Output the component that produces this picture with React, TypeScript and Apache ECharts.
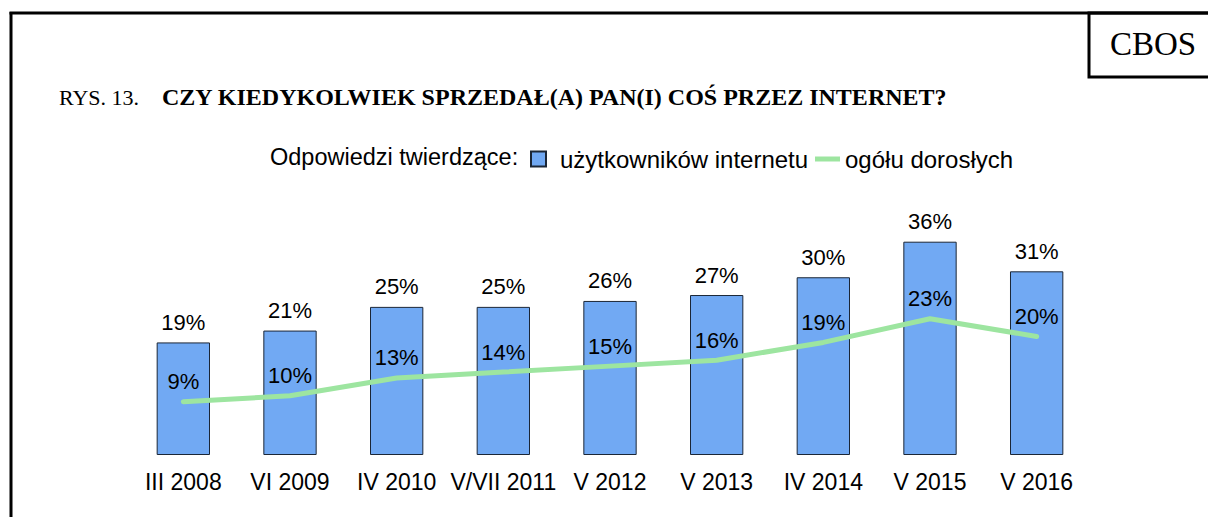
import React, { useEffect, useRef } from "react";
import * as echarts from "echarts";

const categories = ["III 2008", "VI 2009", "IV 2010", "V/VII 2011", "V 2012", "V 2013", "IV 2014", "V 2015", "V 2016"];
const internetUsers = [19, 21, 25, 25, 26, 27, 30, 36, 31];
const allAdults = [9, 10, 13, 14, 15, 16, 19, 23, 20];
const seriesNames = ["użytkowników internetu", "ogółu dorosłych"];
const legendLead = "Odpowiedzi twierdzące:";
const titlePrefix = "RYS. 13.";
const titleMain = "CZY KIEDYKOLWIEK SPRZEDAŁ(A) PAN(I) COŚ PRZEZ INTERNET?";

const SANS = "'Liberation Sans', Arial, sans-serif";
const SERIF = "'Liberation Serif', 'Times New Roman', serif";
const GREEN = "#9DE5A0";

export default function App() {
  const ref = useRef<HTMLDivElement>(null);
  useEffect(() => {
    if (!ref.current) return;
    const chart = echarts.init(ref.current, undefined, { renderer: "svg" });
    chart.setOption({
      animation: false,
      backgroundColor: "#ffffff",
      grid: { left: 130, right: 118, top: 218, bottom: 62 },
      xAxis: {
        type: "category",
        data: categories,
        axisLine: { show: false },
        axisTick: { show: false },
        axisLabel: { color: "#000", fontFamily: SANS, fontSize: 23, margin: 15, interval: 0 },
      },
      yAxis: { type: "value", min: 0, max: 40, show: false, splitLine: { show: false } },
      legend: [
        {
          data: [seriesNames[0]],
          left: 525,
          top: 142,
          itemWidth: 15,
          itemHeight: 15,
          icon: "rect",
          textStyle: { color: "#000", fontFamily: SANS, fontSize: 24, padding: [0, 0, 0, 9] },
          selectedMode: false,
        },
        {
          data: [seriesNames[1]],
          left: 810,
          top: 142,
          itemWidth: 25,
          itemHeight: 5,
          icon: "rect",
          itemStyle: { color: GREEN, borderWidth: 0 },
          textStyle: { color: "#000", fontFamily: SANS, fontSize: 24 },
          selectedMode: false,
        },
      ],
      series: [
        {
          name: seriesNames[0],
          type: "bar",
          data: internetUsers,
          barWidth: "50%",
          itemStyle: { color: "#71A9F3", borderColor: "#1b2636", borderWidth: 1 },
          label: {
            show: true,
            position: "top",
            distance: 9,
            formatter: "{c}%",
            color: "#000",
            fontFamily: SANS,
            fontSize: 22,
          },
          z: 2,
        },
        {
          name: seriesNames[1],
          type: "line",
          data: allAdults,
          symbol: "circle",
          symbolSize: 2,
          showSymbol: true,
          lineStyle: { color: GREEN, width: 5, cap: "round", join: "round" },
          itemStyle: { color: GREEN },
          label: {
            show: true,
            position: "top",
            distance: 8,
            formatter: "{c}%",
            color: "#000",
            fontFamily: SANS,
            fontSize: 22,
          },
          labelLayout: { hideOverlap: false },
          z: 3,
        },
      ],
      graphic: [
        { type: "line", shape: { x1: 11, y1: 12, x2: 11, y2: 530 }, style: { stroke: "#000", lineWidth: 3 } },
        { type: "line", shape: { x1: 9.5, y1: 13, x2: 1215, y2: 13 }, style: { stroke: "#000", lineWidth: 3 } },
        { type: "rect", shape: { x: 1089, y: 13, width: 130, height: 64 }, style: { fill: "none", stroke: "#000", lineWidth: 3 } },
        {
          type: "text",
          x: 1153,
          y: 44,
          style: { text: "CBOS", font: `33px ${SERIF}`, fill: "#000", align: "center", verticalAlign: "middle" },
        },
        {
          type: "text",
          x: 59,
          y: 97,
          style: {
            text: `{a|${titlePrefix}}{b|${titleMain}}`,
            verticalAlign: "middle",
            rich: {
              a: { fontFamily: SERIF, fontSize: 22, fill: "#000", color: "#000", width: 103 },
              b: { fontFamily: SERIF, fontSize: 24, fontWeight: "bold", fill: "#000", color: "#000" },
            },
          },
        },
        {
          type: "text",
          x: 270,
          y: 157,
          style: { text: legendLead, font: `23.5px ${SANS}`, fill: "#000", verticalAlign: "middle" },
        },
      ],
    });
    return () => chart.dispose();
  }, []);
  return <div ref={ref} style={{ position: "absolute", left: 0, top: 0, width: 1208, height: 517 }} />;
}
